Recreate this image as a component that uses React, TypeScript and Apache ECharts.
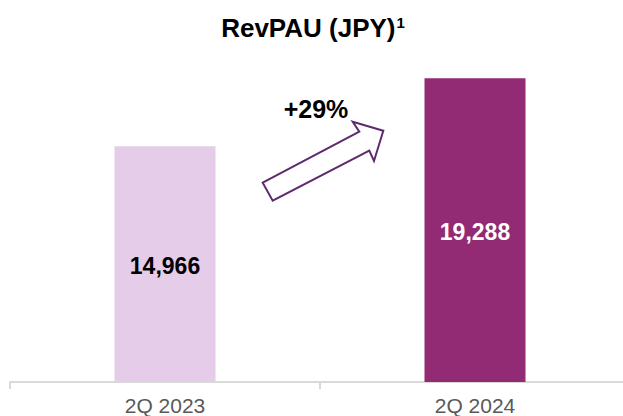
import React, { useEffect, useRef } from "react";
import * as echarts from "echarts";

const categories = ["2Q 2023", "2Q 2024"];
const revpau = [14966, 19288];
const barColors = ["#E5CCE8", "#922B73"];
const labelColors = ["#000000", "#FFFFFF"];
const growthLabel = "+29%";

export default function App() {
  const ref = useRef<HTMLDivElement>(null);
  useEffect(() => {
    if (!ref.current) return;
    const chart = echarts.init(ref.current, null, { renderer: "svg" });
    chart.setOption({
      animation: false,
      backgroundColor: "#FFFFFF",
      textStyle: { fontFamily: "Liberation Sans, Arial, sans-serif" },
      title: {
        text: "{t|RevPAU (JPY)}{s|1}",
        left: 308,
        top: 10,
        textAlign: "center",
        textStyle: {
          rich: {
            t: { fontSize: 26, fontWeight: "bold", color: "#000000", fontFamily: "Liberation Sans, Arial, sans-serif" },
            s: { fontSize: 15, fontWeight: "bold", color: "#000000", verticalAlign: "top", padding: [0, 0, 10, 1], fontFamily: "Liberation Sans, Arial, sans-serif" },
          },
        },
      },
      grid: { left: 10, top: 67, width: 620, bottom: 33, containLabel: false },
      xAxis: {
        type: "category",
        data: categories,
        axisLine: { lineStyle: { color: "#D9D9D9", width: 2 } },
        axisTick: { show: true, length: 7, lineStyle: { color: "#D9D9D9", width: 2 } },
        axisLabel: { color: "#595959", fontSize: 21, margin: 13, fontFamily: "Liberation Sans, Arial, sans-serif" },
      },
      yAxis: {
        type: "value",
        min: 0,
        max: 20000,
        show: false,
        splitLine: { show: false },
      },
      series: [
        {
          type: "bar",
          barWidth: 101,
          data: revpau.map((v, i) => ({
            value: v,
            itemStyle: { color: barColors[i] },
            label: {
              show: true,
              position: "inside",
              offset: [0, 2],
              color: labelColors[i],
              fontSize: 23,
              fontWeight: "bold",
              fontFamily: "Liberation Sans, Arial, sans-serif",
              formatter: (p: any) => p.value.toLocaleString("en-US"),
            },
          })),
        },
      ],
      graphic: [
        {
          type: "polygon",
          shape: {
            points: [
              [262.7, 182.7],
              [359.3, 131.7],
              [352.7, 121.7],
              [383.3, 130.7],
              [374, 161],
              [369.3, 150.7],
              [272.7, 200.7],
            ],
          },
          style: { fill: "#FFFFFF", stroke: "#5E2A6E", lineWidth: 2 },
        },
        {
          type: "text",
          x: 316,
          y: 109,
          style: {
            text: growthLabel,
            fill: "#000000",
            fontSize: 25,
            fontWeight: "bold",
            fontFamily: "Liberation Sans, Arial, sans-serif",
            textAlign: "center",
            textVerticalAlign: "middle",
          },
        },
      ],
    });
    return () => chart.dispose();
  }, []);
  return (
    <div style={{ width: 623, height: 416, position: "fixed", left: 0, top: 0, overflow: "hidden", background: "#FFFFFF" }}>
      <div ref={ref} style={{ width: 650, height: 416 }} />
    </div>
  );
}
